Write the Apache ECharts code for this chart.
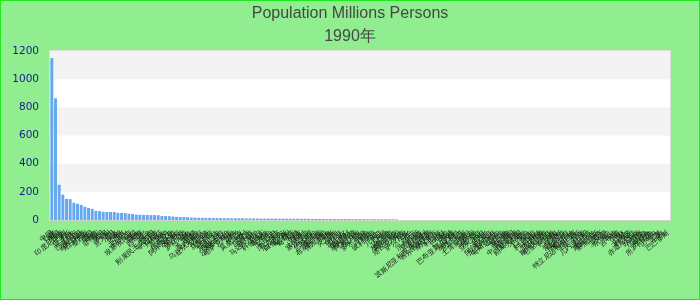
<!DOCTYPE html>
<html>
<head>
<meta charset="utf-8">
<script src="https://cdn.jsdelivr.net/npm/echarts@6/dist/echarts.min.js"></script>
<style>
html,body{margin:0;padding:0;background:#90EE90;}
#wrap{position:relative;width:700px;height:300px;}
#chart{width:700px;height:300px;}
#frame{position:absolute;left:0;top:0;width:700px;height:300px;box-sizing:border-box;border:1px solid #1ee81e;pointer-events:none;}
</style>
</head>
<body>
<div id="wrap"><div id="chart"></div><div id="frame"></div></div>
<script>
var titleText = 'Population Millions Persons';
var subTitleText = '1990年';
var yTicks = [0, 200, 400, 600, 800, 1000, 1200];

var countries = ['中国','印度','美国','印度尼西亚','巴西','俄罗斯','日本','巴基斯坦','孟加拉国','尼日利亚',
'墨西哥','德国','越南','菲律宾','泰国','英国','意大利','法国','埃及','伊朗',
'土耳其','乌克兰','埃塞俄比亚','韩国','缅甸','西班牙','波兰','南非','刚果民主共和国','哥伦比亚',
'阿根廷','加拿大','苏丹','坦桑尼亚','阿尔及利亚','摩洛哥','肯尼亚','罗马尼亚','秘鲁','朝鲜',
'委内瑞拉','乌兹别克斯坦','尼泊尔','伊拉克','马来西亚','乌干达','斯里兰卡','澳大利亚','沙特阿拉伯','哈萨克斯坦',
'加纳','荷兰','莫桑比克','智利','阿富汗','叙利亚','马达加斯加','也门','科特迪瓦','喀麦隆',
'安哥拉','古巴','津巴布韦','厄瓜多尔','白俄罗斯','匈牙利','葡萄牙','希腊','捷克','比利时',
'塞尔维亚','马拉维','危地马拉','柬埔寨','布基纳法索','保加利亚','瑞典','突尼斯','马里','赞比亚',
'尼日尔','奥地利','塞内加尔','阿塞拜疆','索马里','多米尼加','海地','卢旺达','玻利维亚','瑞士',
'几内亚','乍得','布隆迪','格鲁吉亚','斯洛伐克','塔吉克斯坦','丹麦','萨尔瓦多','芬兰','贝宁',
'洪都拉斯','克罗地亚','以色列','波斯尼亚和黑塞哥维那','吉尔吉斯斯坦','摩尔多瓦','利比亚','老挝','巴拉圭','挪威',
'巴布亚新几内亚','塞拉利昂','尼加拉瓜','多哥','土库曼斯坦','立陶宛','爱尔兰','亚美尼亚','约旦','新西兰',
'阿尔巴尼亚','厄立特里亚','哥斯达黎加','乌拉圭','黎巴嫩','新加坡','中非共和国','拉脱维亚','刚果共和国','牙买加',
'巴拿马','蒙古','利比里亚','科威特','北马其顿','斯洛文尼亚','毛里塔尼亚','阿联酋','阿曼','莱索托',
'爱沙尼亚','纳米比亚','博茨瓦纳','特立尼达和多巴哥','毛里求斯','加蓬','几内亚比绍','冈比亚','斯威士兰','塞浦路斯',
'斐济','圭亚那','东帝汶','黑山','吉布提','不丹','巴林','卡塔尔','科摩罗','赤道几内亚',
'苏里南','卢森堡','马耳他','佛得角','所罗门群岛','巴哈马','文莱','冰岛','巴巴多斯'];

// values readable from the bars; categories with no visible bar are left empty (null)
var population = [1150,864,250,180,150,148,122,115,107,94,
86,79,65,63,58,57,57,57,51,50,
49,44,43,38,37,36,36,35,35,34,
29,28,27,25,22,21,21,20,18,17,
16,16,15,15,14,14,13,13,13,12,
12,12,12,11,11,11,10.5,10.3,10.2,10.1,
10,10,9.9,9.8,9.5,9.2,9,8.8,8.7,8.5,
8.2,8,7.9,7.7,7.5,7.3,7.2,7,7,6.9,
6.7,6.5,6.2,6,5.9,5.7,5.5,5.4,5.3,5.1,
5,5,4.9,4.6,4.4,null,null,null,null,null,
null,null,null,null,null,null,null,null,null,null,
null,null,null,null,null,null,null,null,null,null,
null,null,null,null,null,null,null,null,null,null,
null,null,null,null,null,null,null,null,null,null,
null,null,null,null,null,null,null,null,null,null,
null,null,null,null,null,null,null,null,null,null,
null,null,null,null,null,null,null,null,null];

var chart = echarts.init(document.getElementById('chart'), null, {renderer: 'canvas'});
chart.setOption({
  backgroundColor: '#90EE90',
  animation: false,
  title: {
    text: titleText,
    subtext: subTitleText,
    left: 'center',
    top: 1,
    itemGap: 7,
    textStyle: {fontFamily: 'Liberation Sans', fontSize: 16, fontWeight: 'normal', color: '#464646'},
    subtextStyle: {fontFamily: 'Liberation Sans', fontSize: 16, fontWeight: 'normal', color: '#464646'}
  },
  grid: {
    left: 50, right: 30, top: 51, bottom: 80,
    show: true, backgroundColor: '#ffffff', borderColor: '#dcdcdc', borderWidth: 2
  },
  xAxis: {
    type: 'category',
    data: countries,
    axisLine: {show: true, lineStyle: {color: '#d0d0d0'}},
    axisTick: {show: false},
    axisLabel: {interval: 0, rotate: 40, fontSize: 7, color: '#111', margin: 12}
  },
  yAxis: {
    type: 'value',
    min: yTicks[0], max: yTicks[yTicks.length - 1], interval: 200,
    axisLine: {show: false},
    axisTick: {show: false},
    splitLine: {show: false},
    splitArea: {show: true, areaStyle: {color: ['#ffffff', '#f3f3f3']}},
    axisLabel: {fontFamily: 'DejaVu Sans', fontSize: 10.5, color: '#1a1a8a', margin: 11,
      formatter: function (v) { return String(v); }}
  },
  series: [{
    type: 'bar',
    data: population,
    itemStyle: {color: '#64a8f0'},
    barCategoryGap: '20%'
  }]
});
</script>
</body>
</html>
